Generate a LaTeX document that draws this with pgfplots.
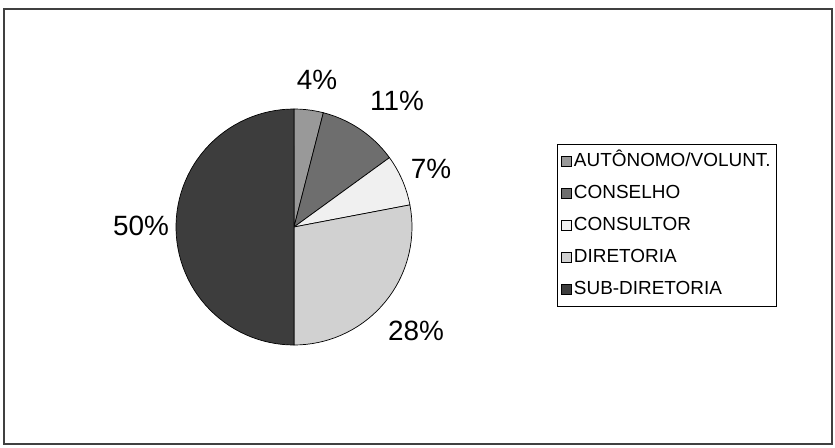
\documentclass[border=0pt]{standalone}
\usepackage{fontspec}
\setmainfont{Liberation Sans}
\usepackage{pgfplots}
\pgfplotsset{compat=1.18}
\definecolor{cA}{gray}{0.60}
\definecolor{cB}{gray}{0.43}
\definecolor{cC}{gray}{0.94}
\definecolor{cD}{gray}{0.82}
\definecolor{cE}{gray}{0.24}
\begin{document}
\begin{tikzpicture}
\begin{axis}[
  scale only axis, width=835bp, height=448bp,
  xmin=0, xmax=835, ymin=0, ymax=448, y dir=reverse,
  hide axis, clip=false,
  legend style={at={(557/835,1-144/448)}, anchor=north west,
    draw=black, line width=0.8bp,
    font=\fontsize{19}{22}\selectfont,
    inner xsep=3.5bp, inner ysep=6bp, row sep=10bp,
    nodes={text height=14bp, text depth=4bp, inner ysep=2bp, inner xsep=2.5bp},
    cells={anchor=west}, legend columns=1},
  legend image code/.code={%
    \draw[#1, draw=black, line width=0.6bp] (0bp,-5bp) rectangle (10bp,5bp);},
]
% slices: values 4, 11, 7, 28, 50 (percent), clockwise from 12 o'clock
\addplot[fill=cA, draw=black, line width=0.7bp, domain=0:4, samples=6, variable=\t]
  ({294+118*sin(3.6*\t)}, {227-118*cos(3.6*\t)}) -- (axis cs:294,227) -- cycle;
\addlegendentry{AUTÔNOMO/VOLUNT.}
\addplot[fill=cB, draw=black, line width=0.7bp, domain=4:4+11, samples=15, variable=\t]
  ({294+118*sin(3.6*\t)}, {227-118*cos(3.6*\t)}) -- (axis cs:294,227) -- cycle;
\addlegendentry{CONSELHO}
\addplot[fill=cC, draw=black, line width=0.7bp, domain=15:15+7, samples=10, variable=\t]
  ({294+118*sin(3.6*\t)}, {227-118*cos(3.6*\t)}) -- (axis cs:294,227) -- cycle;
\addlegendentry{CONSULTOR}
\addplot[fill=cD, draw=black, line width=0.7bp, domain=22:22+28, samples=35, variable=\t]
  ({294+118*sin(3.6*\t)}, {227-118*cos(3.6*\t)}) -- (axis cs:294,227) -- cycle;
\addlegendentry{DIRETORIA}
\addplot[fill=cE, draw=black, line width=0.7bp, domain=50:50+50, samples=60, variable=\t]
  ({294+118*sin(3.6*\t)}, {227-118*cos(3.6*\t)}) -- (axis cs:294,227) -- cycle;
\addlegendentry{SUB-DIRETORIA}

\node[font=\fontsize{28}{30}\selectfont] at (axis cs:317,80) {4\%};
\node[font=\fontsize{28}{30}\selectfont] at (axis cs:397,101) {11\%};
\node[font=\fontsize{28}{30}\selectfont] at (axis cs:431,169) {7\%};
\node[font=\fontsize{28}{30}\selectfont] at (axis cs:416,331) {28\%};
\node[font=\fontsize{28}{30}\selectfont] at (axis cs:141,226) {50\%};

\draw[line width=1.3bp, black!75] (axis cs:4,9) rectangle (axis cs:832,444);
\path (axis cs:0,0) rectangle (axis cs:835,448);
\end{axis}
\end{tikzpicture}
\end{document}
